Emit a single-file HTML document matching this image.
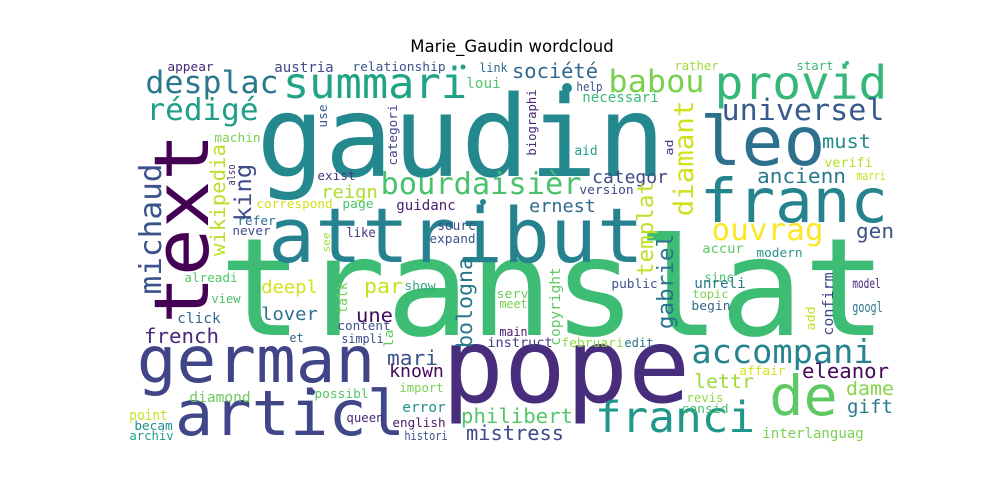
<!DOCTYPE html>
<html><head><meta charset="utf-8">
<style>
html,body{margin:0;padding:0;background:#fff;}
svg{display:block;}
</style></head>
<body>
<svg id="cloud" width="1000" height="500" viewBox="0 0 1000 500" xmlns="http://www.w3.org/2000/svg">
<rect width="1000" height="500" fill="#ffffff"/>
<text x="512" y="52" text-anchor="middle" font-family="DejaVu Sans, Liberation Sans, sans-serif" font-size="16.5" fill="#000">Marie_Gaudin wordcloud</text>
<g id="words"></g>
</svg>
<script>
const words = ["gaudin","translat","pope","attribut","text","german","articl","franc","leo","provid","summari","desplac","rédigé","bourdaisièr","universel","babou","de","franci","accompani","michaud","diamant","ouvrag",
"appear","austria","relationship","link","loui","use","categori","machin","wikipedia","king","also","exist","reign","correspond","page","guidanc","refer","never","like","see","sourc","expand","ernest","categor","version","société","rather","start","help","necessari","biographi","aid","ad","templat","gabriel","must","verifi","ancienn","marri","gen","accur","modern","sinc","unreli","topic","begin","model","confirm","add","googl","public","serv","meet","main","copyright","instruct","februari","edit","affair","eleanor","lettr","dame","gift","revis","consid","interlanguag","philibert","mistress","french","click","view","alreadi","deepl","lover","par","une","talk","show","content","et","simpli","la","bologna","mari","known","import","diamond","possibl","error","point","queen","english","becam","archiv","histori"];
const sizes = [112,136,103,76,76,64,62,61,68,46,43,31,30,30,29.5,31,55,43,33,30,27,30,
12.5,13.8,12.7,12.5,14,12,12.5,12.5,20,23,11,12.3,18,12.5,12.5,14,12.5,12.5,13.5,11,13,12.5,18,17.5,12.6,20,12,12,12,14,12,13,11,22,22,19.5,13,20.6,12,20,13.5,12.5,13,14,11.6,12.5,13,14.5,12.5,14,12.5,12.5,12.5,12.5,14,13.3,12.7,12.7,12.5,20,19.5,19,19,12.5,12.7,13.8,20,20,20,14,12.5,12.5,18,18,20,19.5,13,12.5,12.5,12.5,12.5,12,21,20,17.6,12,14,12.5,14,14,12.5,12.5,12.5,12.5,12.5];
const xs = [262,226,447,272,208,140,178,703,703,717,285,147,148,382,723,610,772,597,693,161,693,713,
168,275,353,480,467,327,397,215,225,251,235,318,322,257,343,397,238,233,347,330,438,430,530,593,580,513,675,797,577,583,536,575,673,653,673,823,825,758,857,857,703,757,705,695,693,692,853,833,815,853,612,497,500,500,560,488,562,625,740,803,695,847,848,687,682,763,462,467,145,178,212,185,262,262,365,357,347,405,338,290,342,393,472,388,390,400,190,315,403,130,347,393,135,130,405];
const ys = [176,335,402,262,320,382,435,222,165,99,98,93,120,194,120,92,415,432,363,293,215,240,
71,72,71,72,88,127,165,142,255,220,185,180,198,208,208,210,225,235,237,252,230,243,212,183,194,78,70,70,91,102,155,155,155,275,328,148,167,183,180,238,253,257,282,288,298,310,288,335,330,312,288,298,308,336,345,347,347,347,375,378,388,395,413,402,413,438,423,440,343,323,303,282,293,320,293,322,313,290,330,342,343,347,347,365,377,392,402,398,412,420,422,427,430,440,440];
const lens = [398,654,238,368,183,232,224,182,119,168,180,130,109,198,160,93,63,156,179,128,113,109,
45,58,92,27,33,22,60,45,110,55,20,37,55,75,30,58,37,37,28,19,37,45,65,74,53,84,43,36,25,75,65,22,15,93,93,47,47,87,28,36,40,45,28,50,35,38,27,62,23,29,45,31,27,27,77,64,61,28,45,85,58,46,44,36,46,100,110,96,73,42,28,52,55,55,37,35,30,30,52,13,41,17,89,49,53,43,60,53,42,37,36,52,37,43,42];
const vert = [0,0,0,0,1,0,0,0,0,0,0,0,0,0,0,0,0,0,0,1,1,0,
0,0,0,0,0,1,1,0,1,1,1,0,0,0,0,0,0,0,0,1,0,0,0,0,0,0,0,0,0,0,1,0,1,1,1,0,0,0,0,0,0,0,0,0,0,0,0,1,1,0,0,0,0,0,1,0,0,0,0,0,0,0,0,0,0,0,0,0,0,0,0,0,0,0,0,0,1,0,0,0,0,1,1,0,0,0,0,0,0,0,0,0,0,0,0];
const colors = ["#23898e","#3dbc74","#472d7b","#26828e","#440154","#414487","#3f4788","#25838e","#2d708e","#35b779","#20a386","#2a788e","#1f9e89","#4ac16d","#38598c","#7ad151","#5ec962","#1f978b","#25848e","#3b528b","#d0e11c","#fde725",
"#482878","#3e4a89","#3b528b","#31688e","#52c569","#35608d","#404688","#7ad151","#bddf26","#3e4c8a","#482677","#453781","#addc30","#d2e21b","#4ac16d","#481c6e","#2e6f8e","#3d4d8a","#46327e","#a8db34","#3e4989","#3a548c","#2f6b8e","#3e4a89","#3f4788","#31688e","#a0da39","#3aba76","#3b528b","#3aba76","#482677","#1fa187","#482878","#c2df23","#2c728e","#228c8d","#b5de2b","#2a788e","#c8e020","#3b528b","#5ec962","#2a968c","#4ac16d","#2a788e","#7ad151","#31688e","#482878","#3e4989","#c2df23","#2a788e","#3b528b","#6ccd5a","#7ad151","#481a6c","#5ec962","#433e85","#8fd744","#2e6f8e","#d8e219","#46085c","#a0da39","#86d549","#2a788e","#8fd744","#4ac16d","#7ad151","#56c667","#3e4a89","#482878","#31688e","#4ac16d","#52c569","#d2e21b","#2c728e","#c8e020","#46085c","#6ccd5a","#36a487","#3b528b","#31688e","#3e4a89","#5ec962","#2a788e","#3b528b","#46085c","#7ad151","#6ccd5a","#52c569","#21918c","#c8e020","#482878","#481a6c","#21918c","#1fa187","#3b528b"];
const dotsX = [463,567,847,483,312];
const dotsY = [67,88,63,202,392];
const dotsR = [2.5,5,2,3,3];
const dotsC = ["#2a9d8f","#23898e","#3aba76","#23898e","#3f4788"];

const NS = "http://www.w3.org/2000/svg";
const g = document.getElementById('words');
for (let i = 0; i < words.length; i++) {
  const s = sizes[i];
  const t = document.createElementNS(NS, 'text');
  
  
  t.setAttribute('font-family', 'DejaVu Sans Mono, Liberation Mono, monospace');
  t.setAttribute('font-size', s);
  t.setAttribute('fill', colors[i]);
  t.setAttribute('textLength', lens[i] + 0.1 * s);
  t.setAttribute('lengthAdjust', 'spacingAndGlyphs');
  if (vert[i]) {
    const bx = xs[i], by = ys[i] + 0.05 * s;
    t.setAttribute('x', 0);
    t.setAttribute('y', 0);
    t.setAttribute('transform', 'translate(' + bx + ',' + by + ') rotate(-90)');
  } else {
    t.setAttribute('x', xs[i] - 0.05 * s);
    t.setAttribute('y', ys[i]);
  }
  t.textContent = words[i];
  g.appendChild(t);
}
for (let i = 0; i < dotsX.length; i++) {
  const c = document.createElementNS(NS, 'circle');
  
  
  c.setAttribute('cx', dotsX[i]);
  c.setAttribute('cy', dotsY[i]);
  c.setAttribute('r', dotsR[i]);
  c.setAttribute('fill', dotsC[i]);
  g.appendChild(c);
}
</script>
</body></html>
